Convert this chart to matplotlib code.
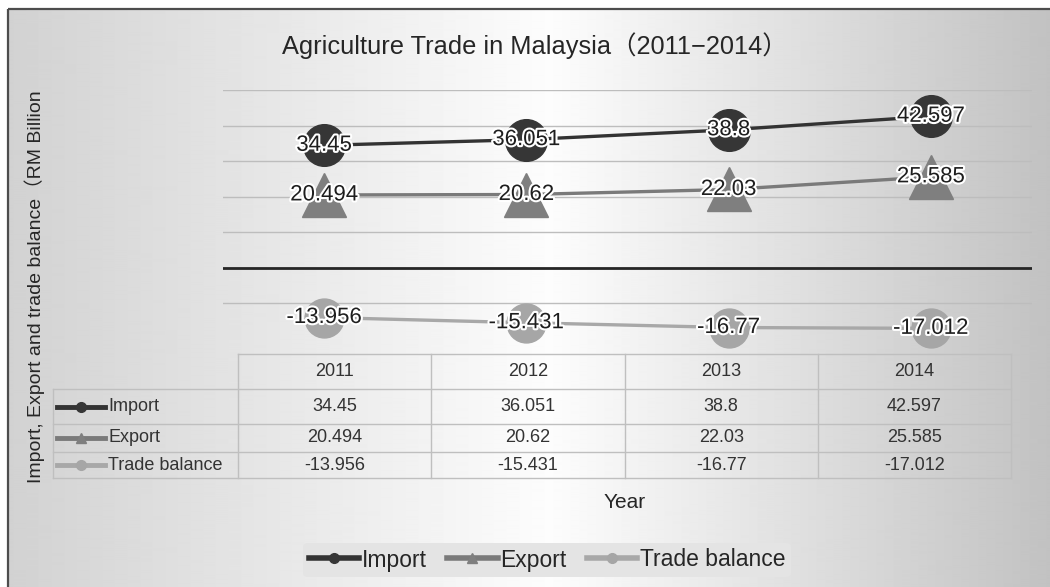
import matplotlib
matplotlib.use("Agg")
import matplotlib.pyplot as plt
import matplotlib.patheffects as pe
from matplotlib.lines import Line2D
from matplotlib.patches import Rectangle
import numpy as np

years = ["2011", "2012", "2013", "2014"]
series_names = ["Import", "Export", "Trade balance"]
imports = [34.45, 36.051, 38.8, 42.597]
exports = [20.494, 20.62, 22.03, 25.585]
balance = [-13.956, -15.431, -16.77, -17.012]

title = "Agriculture Trade in Malaysia（2011−2014）"
ylabel = "Import, Export and trade balance（RM Billion"
xlabel = "Year"

FONT = ["Liberation Sans", "Noto Sans CJK SC", "DejaVu Sans"]
plt.rcParams["font.family"] = FONT

W, H = 1050, 587
fig = plt.figure(figsize=(W / 100, H / 100), dpi=100)
fig.patch.set_facecolor("white")

# background gradient panel
bg = fig.add_axes([0, 0, 1, 1])
bg.set_xlim(0, W)
bg.set_ylim(H, 0)
bg.axis("off")
xs = np.array([0, 550, 1050])
vals = np.array([0.82, 0.99, 0.76])
grad = np.interp(np.arange(8, W), xs, vals)
bg.imshow(np.tile(grad, (2, 1)), cmap="gray", vmin=0, vmax=1,
          extent=(8, W, H, 9), aspect="auto", interpolation="bilinear")
bg.add_patch(Rectangle((8, 9), 1200, 700, fill=False, ec="#4d4d4d", lw=1.6))

# line chart
ax = fig.add_axes([223 / W, 1 - 339 / H, 809 / W, 249 / H])
ax.patch.set_alpha(0)
x = np.arange(len(years))
styles = [
    (imports, "#333333", "#363636", "o", 30),
    (exports, "#7a7a7a", "#7f7f7f", "^", 31),
    (balance, "#a8a8a8", "#a6a6a6", "o", 28),
]
for vals_, lc, mc, mk, ms in styles:
    ax.plot(x, vals_, color=lc, lw=2.4, marker=mk, ms=ms, mfc=mc, mec=mc,
            zorder=3, clip_on=False)
    for xi, v in zip(x, vals_):
        ax.text(xi, v, f"{v:g}", ha="center", va="center", fontsize=16,
                color="#1e1e1e", zorder=5,
                path_effects=[pe.withStroke(linewidth=3, foreground="white")])
ax.set_xlim(-0.5, 3.5)
ax.set_ylim(-20, 50)
ax.set_yticks(np.arange(-10, 51, 10))
ax.yaxis.grid(True, color="#bdbdbd", lw=1)
ax.axhline(0, color="#262626", lw=2, zorder=2)
ax.tick_params(left=False, bottom=False, labelleft=False, labelbottom=False)
for s in ax.spines.values():
    s.set_visible(False)

# overlay for table and texts
ov = fig.add_axes([0, 0, 1, 1])
ov.set_xlim(0, W)
ov.set_ylim(H, 0)
ov.axis("off")

ov.text(535, 54, title, ha="center", va="baseline", fontsize=18.3, color="#262626")
ov.text(35, 287, ylabel, rotation=90, ha="center", va="center", fontsize=14,
        color="#262626")
ov.text(625, 502, xlabel, ha="center", va="center", fontsize=15, color="#262626")

# data table
gc = "#bfbfbf"
lab_l, col0, col_w = 53, 238, 193.25
rows = [354, 389, 424, 452, 478]
right = col0 + col_w * len(years)
ov.plot([col0, right], [rows[0], rows[0]], color=gc, lw=1)
for r in rows[1:]:
    ov.plot([lab_l, right], [r, r], color=gc, lw=1)
ov.plot([lab_l, lab_l], [rows[1], rows[-1]], color=gc, lw=1)
for i in range(len(years) + 1):
    ov.plot([col0 + i * col_w] * 2, [rows[0], rows[-1]], color=gc, lw=1)
for i, yr in enumerate(years):
    ov.text(col0 + (i + 0.5) * col_w, (rows[0] + rows[1]) / 2, yr,
            ha="center", va="center", fontsize=13, color="#333333")
for j, (name, (vals_, lc, mc, mk, ms)) in enumerate(zip(series_names, styles)):
    yc = (rows[j + 1] + rows[j + 2]) / 2
    ov.plot([57, 105], [yc, yc], color=lc, lw=3.5)
    ov.plot([81], [yc], marker=mk, ms=7, color=mc)
    ov.text(108, yc, name, ha="left", va="center", fontsize=13, color="#333333")
    for i, v in enumerate(vals_):
        ov.text(col0 + (i + 0.5) * col_w, yc, f"{v:g}", ha="center", va="center",
                fontsize=13, color="#333333")

# legend
handles = [Line2D([], [], color=lc, lw=4, marker=mk, ms=7, mfc=mc, mec=mc)
           for _, lc, mc, mk, ms in styles]
leg = fig.legend(handles, series_names, loc="center", bbox_to_anchor=(547 / W, 1 - 560 / H),
                 ncol=3, fontsize=16.5, frameon=True, handlelength=2.2,
                 handletextpad=0.1, columnspacing=0.9, borderpad=0.25)
leg.get_frame().set_facecolor("#e4e4e4")
leg.get_frame().set_edgecolor("none")
leg.get_frame().set_alpha(1)
for t in leg.get_texts():
    t.set_color("#262626")

fig.savefig("out.png", dpi=100)
